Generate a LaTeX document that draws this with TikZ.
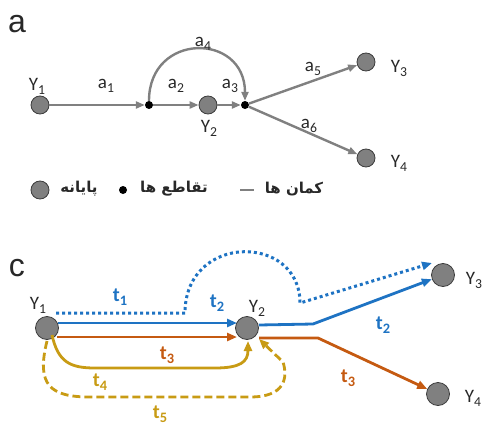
\documentclass[tikz,border=0pt]{standalone}
\usepackage{fontspec}
\setmainfont{Carlito}
\newfontfamily\arialf{Liberation Sans}
\newfontfamily\fa[Script=Arabic]{DejaVu Sans}
\TeXXeTstate=1
\usetikzlibrary{arrows.meta}
\definecolor{termfill}{RGB}{128,128,128}
\definecolor{termedge}{RGB}{60,60,60}
\definecolor{arcgray}{RGB}{128,128,128}
\definecolor{bluec}{RGB}{30,115,195}
\definecolor{orangec}{RGB}{197,90,17}
\definecolor{goldc}{RGB}{200,155,20}
\definecolor{txtc}{RGB}{40,40,40}
\newcommand{\sbs}[1]{\raisebox{-0.45ex}{\scalebox{0.72}{#1}}}
\begin{document}
\begin{tikzpicture}[x=1pt,y=-1pt,
  term/.style={circle,fill=termfill,draw=termedge,line width=0.8pt,minimum size=18pt,inner sep=0pt},
  termc/.style={term,minimum size=23pt},
  junc/.style={circle,fill=black,minimum size=8pt,inner sep=0pt},
  lab/.style={text=txtc,font=\fontsize{19}{19}\selectfont,inner sep=0pt},
  tlab/.style={font=\fontsize{20}{20}\selectfont\bfseries,inner sep=0pt},
  panel/.style={font=\arialf\fontsize{32}{32}\selectfont,text=txtc,inner sep=0pt},
  garrow/.style={draw=arcgray,line width=2.4pt,-{Triangle[length=9pt,width=7pt]}},
  bl/.style={draw=bluec,line width=2.8pt,-{Triangle[length=10pt,width=8pt]}},
  ol/.style={draw=orangec,line width=2.8pt,-{Triangle[length=10pt,width=8pt]}},
  gl/.style={draw=goldc,line width=2.8pt,-{Triangle[length=10pt,width=8pt]}},
  leg/.style={font=\fa\bfseries\fontsize{15}{15}\selectfont,text=txtc,inner sep=0pt}
]
\path[use as bounding box] (0,0) rectangle (487,428);

% ---------- panel a ----------
\node[panel] (pa) at (17,24) {a};
\node[term] (Y1a) at (40,105) {};
\node[junc] (J1) at (149,105) {};
\node[term] (Y2a) at (208,105) {};
\node[junc] (J2) at (245,105) {};
\node[term] (Y3a) at (366,62) {};
\node[term] (Y4a) at (366,158) {};

\draw[garrow] (Y1a) -- (J1);
\draw[garrow] (J1) -- (Y2a);
\draw[garrow] (Y2a) -- (J2);
\draw[garrow] (J1) .. controls (149,32) and (245,32) .. (J2);
\draw[garrow] (J2) -- (Y3a);
\draw[garrow] (J2) -- (Y4a);

\node[lab] (lY1a) at (37,86) {Y\sbs{1}};
\node[lab] (lY2a) at (209,128) {Y\sbs{2}};
\node[lab] (lY3a) at (399,68) {Y\sbs{3}};
\node[lab] (lY4a) at (399,163) {Y\sbs{4}};
\node[lab] (la1) at (106,86) {a\sbs{1}};
\node[lab] (la2) at (176,86) {a\sbs{2}};
\node[lab] (la3) at (230,86) {a\sbs{3}};
\node[lab] (la4) at (203,44) {a\sbs{4}};
\node[lab] (la5) at (313,69) {a\sbs{5}};
\node[lab] (la6) at (309,126) {a\sbs{6}};

% legend
\node[term] (lgT) at (40,190) {};
\node[leg] (lgT1) at (79,189) {\beginR پایانه\endR};
\node[junc] (lgJ) at (123,190) {};
\node[leg] (lgJ1) at (174,189) {\beginR تقاطع ها\endR};
\coordinate (lgA0) at (240,190);
\coordinate (lgA1) at (254,190);
\draw[draw=arcgray,line width=2.5pt] (lgA0) -- (lgA1);
\node[leg] (lgA2) at (294,189) {\beginR کمان ها\endR};

% ---------- panel c ----------
\node[panel] (pc) at (17,268) {c};
\node[termc] (Y1c) at (47,328) {};
\node[termc] (Y2c) at (247,328) {};
\node[termc] (Y3c) at (443,275) {};
\node[termc] (Y4c) at (438,394) {};

\node[lab] (lY1c) at (38,305) {Y\sbs{1}};
\node[lab] (lY2c) at (257,308) {Y\sbs{2}};
\node[lab] (lY3c) at (474,280) {Y\sbs{3}};
\node[lab] (lY4c) at (473,398) {Y\sbs{4}};

\coordinate (b1) at (313,324);
\coordinate (o1) at (318,338);

% t1 dotted
\draw[draw=bluec,line width=3pt,dash pattern=on 3pt off 3pt,-{Triangle[length=10pt,width=8pt]}]
  ([shift={(9,-15)}]Y1c.center) -- (185,313) .. controls (185,233) and (300,233) .. (300,303)
  -- ([shift={(-11,-12)}]Y3c.center);
% t2 solid
\draw[bl] ([shift={(11,-5)}]Y1c.center) -- ([shift={(-10,-5)}]Y2c.center);
\draw[bl] ([shift={(12,-3)}]Y2c.center) -- (b1) -- (Y3c);
% t3
\draw[ol] ([shift={(10,9)}]Y1c.center) -- ([shift={(-10,9)}]Y2c.center);
\draw[ol] ([shift={(12,10)}]Y2c.center) -- (o1) -- (Y4c);
% t4
\draw[gl] ([shift={(5,7)}]Y1c.center) .. controls (58,362) and (70,368) .. (95,368) -- (215,368)
  .. controls (240,368) and (248,362) .. ([shift={(1,13)}]Y2c.center);
% t5
\draw[gl,dash pattern=on 8pt off 4pt] ([shift={(0,13)}]Y1c.center) .. controls (36,385) and (50,397) .. (90,397)
  -- (250,397) .. controls (285,397) and (288,378) .. (283,362) -- ([shift={(12,11)}]Y2c.center);

\node[tlab,text=bluec] (lt1) at (120,297) {t\sbs{1}};
\node[tlab,text=bluec] (lt2a) at (217,303) {t\sbs{2}};
\node[tlab,text=bluec] (lt2b) at (383,325) {t\sbs{2}};
\node[tlab,text=orangec] (lt3a) at (167,355) {t\sbs{3}};
\node[tlab,text=orangec] (lt3b) at (348,378) {t\sbs{3}};
\node[tlab,text=goldc] (lt4) at (100,382) {t\sbs{4}};
\node[tlab,text=goldc] (lt5) at (160,414) {t\sbs{5}};
\end{tikzpicture}
\end{document}
